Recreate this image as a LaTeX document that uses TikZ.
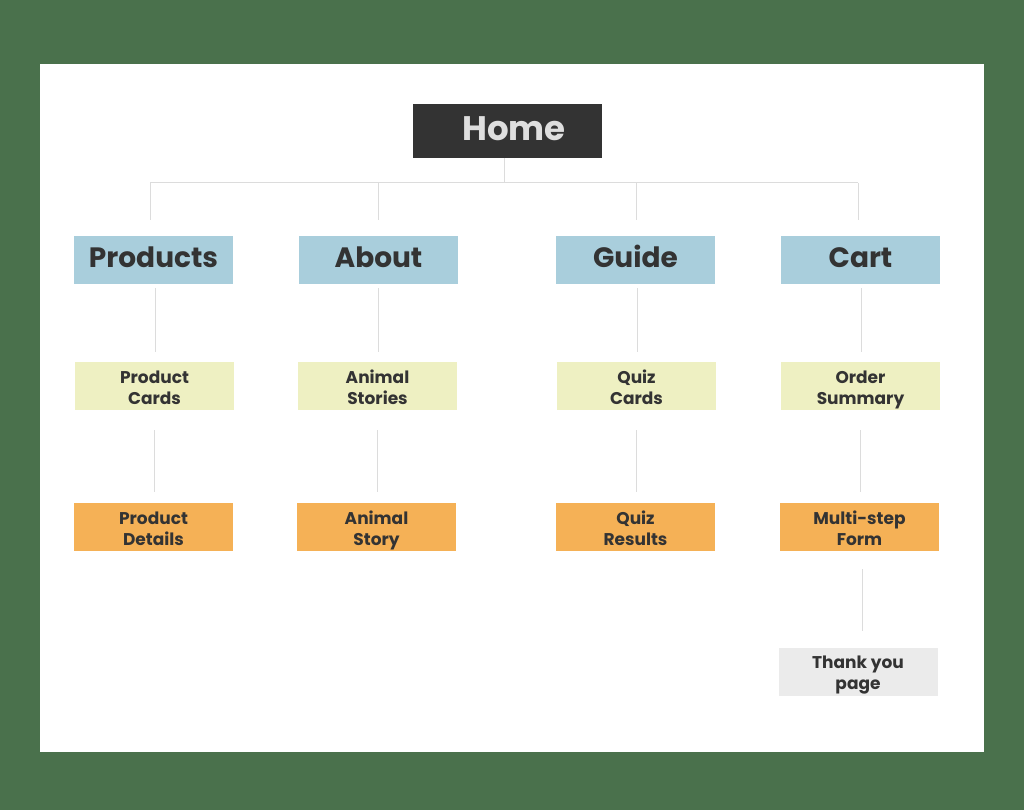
\documentclass[tikz,border=0pt]{standalone}
\usepackage{fontspec}
\setmainfont{Poppins}
\definecolor{bggreen}{HTML}{4A714C}
\definecolor{homebg}{HTML}{333333}
\definecolor{hometext}{HTML}{DEDEDE}
\definecolor{txt}{HTML}{333333}
\definecolor{lvlA}{HTML}{A9CEDC}
\definecolor{lvlB}{HTML}{EEF0C2}
\definecolor{lvlC}{HTML}{F5B156}
\definecolor{lvlD}{HTML}{EBEBEB}
\definecolor{conn}{HTML}{DCDCDC}
\newcommand\twol[2]{\rule{0pt}{20pt}#1\\#2\rule[-5pt]{0pt}{5pt}}
\tikzset{
  box/.style={minimum width=159pt, minimum height=48pt, inner sep=0pt, align=center, text=txt, font=\bfseries},
  homebox/.style={box, fill=homebg, text=hometext, minimum width=189pt, minimum height=54pt,
    text height=24pt, text depth=4.6pt, font=\fontsize{34}{36}\selectfont\bfseries},
  topbox/.style={box, fill=lvlA, text height=20pt, text depth=5.5pt, font=\fontsize{28}{30}\selectfont\bfseries},
  twoline/.style={box, font=\fontsize{17}{21}\selectfont\bfseries},
  midbox/.style={twoline, fill=lvlB},
  lowbox/.style={twoline, fill=lvlC},
  endbox/.style={twoline, fill=lvlD},
  link/.style={draw=conn, line width=1pt}
}
\begin{document}
\begin{tikzpicture}[x=1pt,y=-1pt]
\useasboundingbox (0,0) rectangle (1024,810);
\fill[bggreen] (0,0) rectangle (1024,810);
\fill[white] (40,64) rectangle (984,752);

\node[homebox] (home) at (507.5,131) {\hspace*{13pt}Home};

\node[topbox] (prod) at (153.5,260) {Products};
\node[topbox] (about) at (378.5,260) {About};
\node[topbox] (guide) at (635.5,260) {Guide};
\node[topbox] (cart) at (860.5,260) {Cart};

\node[midbox] (pcards) at (154.5,386) {\twol{Product}{Cards}};
\node[midbox] (astories) at (377.5,386) {\twol{Animal}{Stories}};
\node[midbox] (qcards) at (636.5,386) {\twol{Quiz}{Cards}};
\node[midbox] (osum) at (860.5,386) {\twol{Order}{Summary}};

\node[lowbox] (pdet) at (153.5,527) {\twol{Product}{Details}};
\node[lowbox] (astory) at (376.5,527) {\twol{Animal}{Story}};
\node[lowbox] (qres) at (635.5,527) {\twol{Quiz}{Results}};
\node[lowbox] (form) at (859.5,527) {\twol{Multi-step}{Form}};

\node[endbox] (thanks) at (858,671.5) {\twol{Thank you}{page}};

% tree from Home
\coordinate (hj) at (504,183);
\coordinate (j1) at (150,183);
\coordinate (j2) at (378,183);
\coordinate (j3) at (636,183);
\coordinate (j4) at (858,183);
\coordinate (d1) at (150,220);
\coordinate (d2) at (378,220);
\coordinate (d3) at (636,220);
\coordinate (d4) at (858,220);
\draw[link] (home.south -| hj) -- (hj);
\draw[link] (j1) -- (j4);
\draw[link] (j1) -- (d1);
\draw[link] (j2) -- (d2);
\draw[link] (j3) -- (d3);
\draw[link] (j4) -- (d4);

% level 1 to level 2
\draw[link, shorten <=4pt, shorten >=10pt] ([xshift=1.5pt]prod.south) -- ([xshift=0.5pt]pcards.north);
\draw[link, shorten <=4pt, shorten >=10pt] (about.south) -- (about.south |- astories.north);
\draw[link, shorten <=4pt, shorten >=10pt] ([xshift=1.5pt]guide.south) -- ([xshift=1.5pt]guide.south |- qcards.north);
\draw[link, shorten <=4pt, shorten >=10pt] ([xshift=0.5pt]cart.south) -- ([xshift=0.5pt]cart.south |- osum.north);

% level 2 to level 3
\draw[link, shorten <=20pt, shorten >=11pt] (pcards.south) -- (pcards.south |- pdet.north);
\draw[link, shorten <=20pt, shorten >=11pt] (astories.south) -- (astories.south |- astory.north);
\draw[link, shorten <=20pt, shorten >=11pt] ([xshift=-0.5pt]qcards.south) -- ([xshift=-0.5pt]qcards.south |- qres.north);
\draw[link, shorten <=20pt, shorten >=11pt] (osum.south) -- (osum.south |- form.north);

% level 3 to level 4
\draw[link, shorten <=18pt, shorten >=16pt] ([xshift=2.5pt]form.south) -- ([xshift=2.5pt]form.south |- thanks.north);
\end{tikzpicture}
\end{document}
